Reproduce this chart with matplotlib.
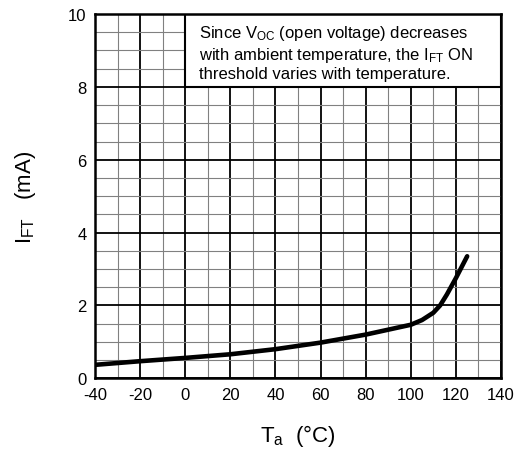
import matplotlib
matplotlib.use("Agg")
import matplotlib.pyplot as plt
from matplotlib.patches import Rectangle
from matplotlib.ticker import MultipleLocator

# curve
temp = [-40, -20, 0, 20, 40, 60, 80, 100, 105, 110, 113, 116, 120, 125]
ift = [0.37, 0.47, 0.56, 0.66, 0.80, 0.98, 1.20, 1.47, 1.60, 1.80, 2.00, 2.30, 2.75, 3.35]

plt.rcParams['font.family'] = ['Liberation Sans', 'DejaVu Sans']
plt.rcParams['mathtext.fontset'] = 'custom'
plt.rcParams['mathtext.rm'] = 'Liberation Sans'
plt.rcParams['mathtext.default'] = 'regular'
plt.rcParams['axes.unicode_minus'] = False

fig = plt.figure(figsize=(5.15, 4.52), dpi=100)
ax = fig.add_axes([0.1845, 0.1608, 0.7883, 0.806])

ax.set_xlim(-40, 140)
ax.set_ylim(0, 10)
ax.xaxis.set_major_locator(MultipleLocator(20))
ax.xaxis.set_minor_locator(MultipleLocator(10))
ax.yaxis.set_major_locator(MultipleLocator(2))
ax.yaxis.set_minor_locator(MultipleLocator(0.5))
ax.set_axisbelow(True)
ax.grid(which='major', color='black', linewidth=1.3)
ax.grid(which='minor', color='#808080', linewidth=0.8)
ax.tick_params(which='both', length=0, labelsize=12, pad=6)
for s in ax.spines.values():
    s.set_linewidth(1.8)

ax.plot(temp, ift, color='black', linewidth=3.3, solid_capstyle='round', zorder=3)

# note box in the top right
ax.add_patch(Rectangle((0, 8), 140, 2, facecolor='white', edgecolor='black',
                       linewidth=1.5, zorder=2))
ax.text(6, 9.75,
        'Since $V_{OC}$ (open voltage) decreases\n'
        'with ambient temperature, the $I_{FT}$ ON\n'
        'threshold varies with temperature.',
        fontsize=12, va='top', ha='left', linespacing=1.2, zorder=4)

ax.set_xlabel('$T_a$  (°C)', fontsize=16, labelpad=15)
ax.set_ylabel('$I_{FT}$   (mA)', fontsize=16, labelpad=22)

fig.savefig('out.png', dpi=100)
